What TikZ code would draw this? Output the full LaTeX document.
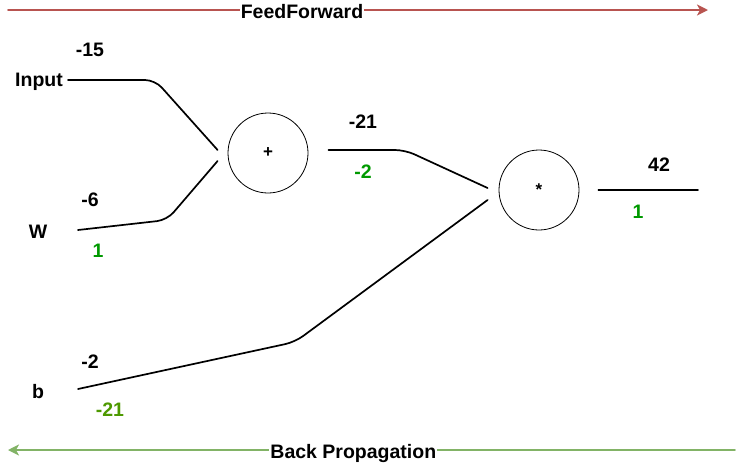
\documentclass[tikz,border=0pt]{standalone}
\usepackage{fontspec}
\setmainfont{Liberation Sans}
\usetikzlibrary{arrows.meta}
\definecolor{ffred}{HTML}{B85450}
\definecolor{bpgreen}{HTML}{82B366}
\definecolor{gradgreen}{HTML}{009900}
\definecolor{gradolive}{HTML}{4D9900}
\begin{document}
\begin{tikzpicture}[x=1pt, y=-1pt, >={Stealth[length=11pt,width=11pt,inset=3pt]}, font=\bfseries\fontsize{19.5}{22}\selectfont, line join=round, line cap=round,
	wire/.style={line width=1.7pt, rounded corners=10pt},
	gate/.style={circle, draw, line width=0.8pt, minimum size=80pt, inner sep=0pt, font=\bfseries\fontsize{17}{17}\selectfont},
	flow/.style={line width=1.8pt, ->},
	grad/.style={text=gradgreen}]
	\useasboundingbox (0,0) rectangle (737,464);
	% Passes
	\coordinate (ffS) at (8,10); \coordinate (ffE) at (708,10);
	\coordinate (bpS) at (735,450); \coordinate (bpE) at (8,450);
	\draw[flow, ffred] (ffS) -- node[pos=0.42, fill=white, inner sep=1pt, text=black, yshift=-2pt] (ff) {FeedForward} (ffE);
	\draw[flow, bpgreen] (bpS) -- node[pos=0.525, fill=white, inner sep=1pt, text=black, yshift=-3pt] (bp) {Back Propagation} (bpE);
	% Gates
	\node[gate] (plus) at (268,153) {+};
	\node[gate] (times) at (539,190) {*};
	% Inputs
	\node (input) at (39,82) {Input};
	\node (w) at (38,232) {W};
	\node (b) at (38,392) {b};
	\coordinate (inS) at (68,80); \coordinate (inB) at (155,80);
	\coordinate (wS) at (78,230); \coordinate (wB) at (167,220);
	\coordinate (bS) at (78,389); \coordinate (bB) at (295,342);
	\coordinate (plusA) at ([shift={(-10,-3)}]plus.west);
	\coordinate (plusB) at ([shift={(-10,8)}]plus.west);
	\coordinate (plusO) at ([shift={(20,-3)}]plus.east);
	\coordinate (plusOB) at (405,150);
	\coordinate (timesA) at ([shift={(-11,-2)}]times.west);
	\coordinate (timesB) at ([shift={(-11,10)}]times.west);
	\coordinate (timesO) at ([xshift=19]times.east);
	\coordinate (outE) at (698,190);
	\draw[wire] (inS) -- (inB) -- (plusA);
	\draw[wire] (wS) -- (wB) -- (plusB);
	\draw[wire] (plusO) -- (plusOB) -- (timesA);
	\draw[wire] (bS) -- (bB) -- (timesB);
	\draw[wire] (timesO) -- (outE);
	% Values and gradients
	\foreach \x/\y/\t [count=\i] in {90/50/-15, 90/200/-6, 363/122/-21, 659/165/42, 90/362/-2}
		\node (val\i) at (\x,\y) {\t};
	\foreach \x/\y/\t [count=\i] in {98/251/1, 363/172/-2, 638/212/1}
		\node[grad] (grad\i) at (\x,\y) {\t};
	\node[text=gradolive] (grad4) at (110,410) {-21};
\end{tikzpicture}
\end{document}
